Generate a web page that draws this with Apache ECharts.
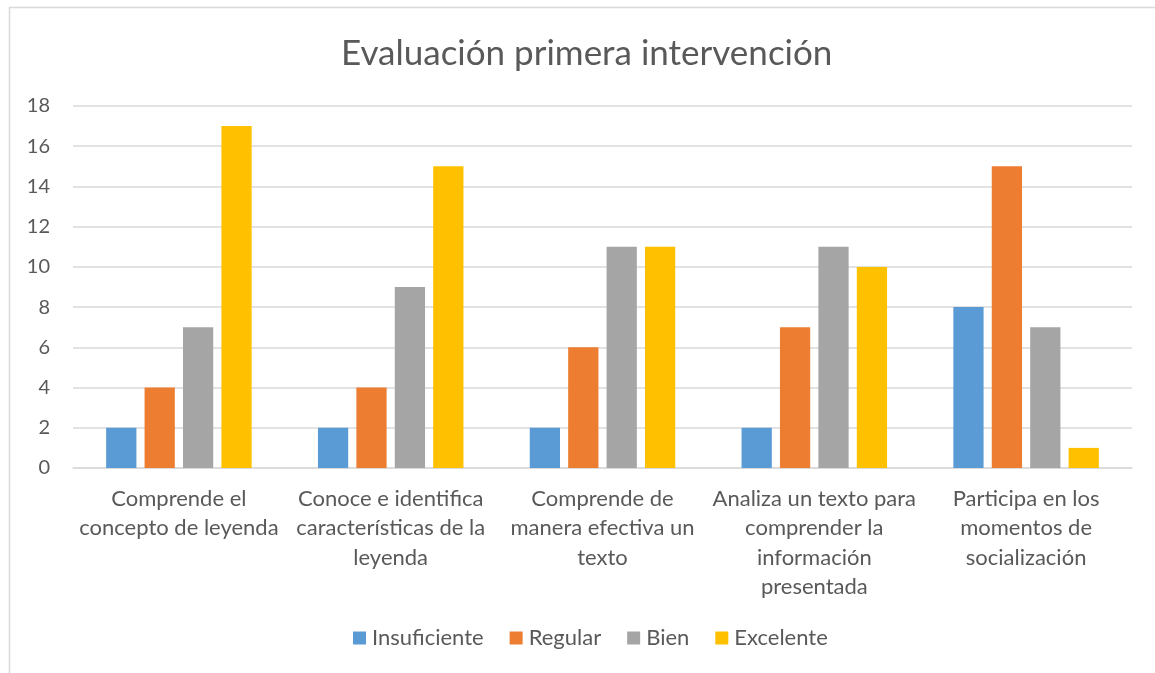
<!DOCTYPE html>
<html>
<head>
<meta charset="utf-8">
<script src="https://cdn.jsdelivr.net/npm/echarts@6/dist/echarts.min.js"></script>
<style>
html,body{margin:0;padding:0;background:#fff;}
#c{width:1155px;height:673px;}
</style>
</head>
<body>
<div id="c"></div>
<script>
const title = 'Evaluación primera intervención';
const categories = [
  'Comprende el\nconcepto de leyenda',
  'Conoce e identifica\ncaracterísticas de la\nleyenda',
  'Comprende de\nmanera efectiva un\ntexto',
  'Analiza un texto para\ncomprender la\ninformación\npresentada',
  'Participa en los\nmomentos de\nsocialización'
];
const seriesNames = ['Insuficiente', 'Regular', 'Bien', 'Excelente'];
const insuficiente = [2, 2, 2, 2, 8];
const regular = [4, 4, 6, 7, 15];
const bien = [7, 9, 11, 11, 7];
const excelente = [17, 15, 11, 10, 1];
const colors = ['#5B9BD5', '#ED7D31', '#A5A5A5', '#FFC000'];
const yTicks = {min: 0, max: 18, interval: 2};

const font = 'Lato, "Liberation Sans", sans-serif';
const dataSets = [insuficiente, regular, bien, excelente];

const chart = echarts.init(document.getElementById('c'), null, {renderer: 'canvas'});
chart.setOption({
  animation: false,
  backgroundColor: '#fff',
  color: colors,
  textStyle: {fontFamily: font},
  title: {
    text: title,
    left: 336,
    top: 31,
    textStyle: {fontFamily: font, fontSize: 35, fontWeight: 'normal', color: '#595959'}
  },
  graphic: [{
    type: 'rect',
    shape: {x: 9.5, y: 7.5, width: 1300, height: 800},
    style: {fill: 'none', stroke: '#D9D9D9', lineWidth: 1.5},
    silent: true
  }],
  legend: {
    data: seriesNames,
    bottom: 19,
    left: 348,
    itemWidth: 13,
    itemHeight: 13,
    itemGap: 26,
    icon: 'rect',
    textStyle: {fontFamily: font, fontSize: 22, color: '#595959', padding: [0, 0, 0, 1]}
  },
  grid: {left: 73, right: 23, top: 106, bottom: 205, containLabel: false},
  xAxis: {
    type: 'category',
    data: categories,
    axisLine: {lineStyle: {color: '#D9D9D9', width: 1.5}},
    axisTick: {show: false},
    axisLabel: {fontFamily: font, fontSize: 22, color: '#595959', lineHeight: 29.5, interval: 0, margin: 16}
  },
  yAxis: {
    type: 'value',
    min: yTicks.min,
    max: yTicks.max,
    interval: yTicks.interval,
    axisLine: {show: false},
    axisTick: {show: false},
    splitLine: {lineStyle: {color: '#D9D9D9', width: 1.5}},
    axisLabel: {fontFamily: font, fontSize: 20, color: '#595959', margin: 23}
  },
  series: seriesNames.map((n, i) => ({
    name: n,
    type: 'bar',
    data: dataSets[i],
    barGap: '27%',
    barCategoryGap: '31.3%',
    itemStyle: {color: colors[i]}
  }))
});
</script>
</body>
</html>
